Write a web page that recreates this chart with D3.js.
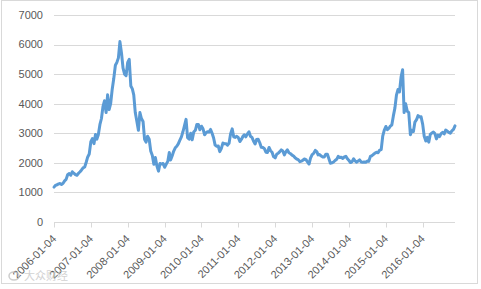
<!DOCTYPE html>
<html>
<head>
<meta charset="utf-8">
<script src="https://cdn.jsdelivr.net/npm/d3@7"></script>
<style>
  body { margin: 0; background: #fff; }
  svg { display: block; font-family: "Liberation Sans", Arial, sans-serif; }
</style>
</head>
<body>
<div id="chart"></div>
<script>
// Shanghai composite, two readings a month (4th and 19th)
const years = [2006, 2007, 2008, 2009, 2010, 2011, 2012, 2013, 2014, 2015, 2016];
const readDays = [4, 19];

const v2006 = [1180, 1240, 1260, 1290, 1300, 1270, 1310, 1390, 1440, 1600, 1640, 1580,
               1700, 1650, 1600, 1580, 1650, 1700, 1760, 1830, 1860, 2020, 2200, 2300];
const v2007 = [2715, 2820, 2650, 2960, 2800, 2950, 3300, 3500, 3900, 4100, 3700, 4300,
               3800, 4000, 4500, 4850, 5300, 5400, 5550, 6100, 5700, 5200, 5000, 4950];
const v2008 = [5400, 5500, 4600, 4500, 4300, 3700, 3400, 3100, 3700, 3500, 3400, 2800,
               2700, 2900, 2800, 2400, 2250, 1950, 2180, 1900, 1720, 1980, 1960, 1980];
const v2009 = [1850, 1950, 2050, 2350, 2100, 2230, 2400, 2510, 2560, 2640, 2770, 2880,
               3050, 3250, 3470, 2850, 2800, 3000, 2780, 3040, 3100, 3300, 3300, 3120];
const v2010 = [3240, 3150, 2950, 3020, 3050, 3040, 3130, 3000, 2840, 2600, 2560, 2570,
               2380, 2480, 2670, 2650, 2650, 2600, 2660, 2980, 3150, 2880, 2860, 2900];
const v2011 = [2850, 2720, 2800, 2900, 2950, 2880, 2980, 3050, 2900, 2860, 2730, 2640,
               2790, 2800, 2680, 2530, 2520, 2480, 2360, 2350, 2520, 2410, 2360, 2210];
const v2012 = [2170, 2290, 2330, 2380, 2440, 2400, 2270, 2380, 2440, 2340, 2310, 2260,
               2230, 2170, 2130, 2110, 2040, 2060, 2090, 2130, 2110, 2030, 1960, 2160];
const v2013 = [2280, 2320, 2420, 2380, 2270, 2280, 2230, 2200, 2200, 2290, 2290, 2140,
               1990, 2000, 2030, 2080, 2120, 2220, 2180, 2190, 2150, 2200, 2220, 2140];
const v2014 = [2080, 2010, 2040, 2140, 2070, 2020, 2060, 2100, 2030, 2020, 2030, 2020,
               2060, 2050, 2220, 2240, 2290, 2330, 2360, 2340, 2430, 2450, 2900, 3100];
const v2015 = [3230, 3120, 3170, 3250, 3280, 3580, 3860, 4290, 4480, 4400, 4910, 5150,
               3700, 4000, 3750, 3700, 2950, 3100, 3060, 3380, 3460, 3600, 3550, 3560];
const v2016 = [3300, 2900, 2740, 2860, 2700, 2960, 3010, 3040, 2990, 2810, 2940, 2890,
               2990, 3030, 2980, 3110, 3070, 3030, 3000, 3080, 3130, 3250];

const yTicks = [0, 1000, 2000, 3000, 4000, 5000, 6000, 7000];
const xTickLabels = years.map(y => y + "-01-04");

const byYear = [v2006, v2007, v2008, v2009, v2010, v2011, v2012, v2013, v2014, v2015, v2016];
const data = [];
byYear.forEach((vals, yi) => {
  vals.forEach((v, i) => {
    data.push({ date: new Date(years[yi], Math.floor(i / 2), readDays[i % 2]), value: v });
  });
});

const width = 481, height = 289;
const margin = { left: 54, right: 26, top: 15, bottom: 67 };

const x = d3.scaleTime()
  .domain(d3.extent(data, d => d.date))
  .range([margin.left, width - margin.right]);
const y = d3.scaleLinear()
  .domain([0, 7000])
  .range([height - margin.bottom, margin.top]);

const svg = d3.select("#chart").append("svg")
  .attr("width", width)
  .attr("height", height);

svg.append("rect")
  .attr("x", 1.5).attr("y", 0.5)
  .attr("width", 476).attr("height", 283)
  .attr("fill", "#fff")
  .attr("stroke", "#d9d9d9");

// gridlines
svg.append("g")
  .selectAll("line")
  .data(yTicks)
  .join("line")
    .attr("x1", margin.left)
    .attr("x2", width - margin.right)
    .attr("y1", d => Math.round(y(d)) + 0.5)
    .attr("y2", d => Math.round(y(d)) + 0.5)
    .attr("stroke", "#d9d9d9");

svg.append("g")
    .style("font-size", "11px")
    .attr("fill", "#595959")
  .selectAll("text")
  .data(yTicks)
  .join("text")
    .attr("x", margin.left - 11)
    .attr("y", d => y(d))
    .attr("dy", "0.35em")
    .attr("text-anchor", "end")
    .text(d => d);

// x axis ticks + rotated labels
const tickDates = years.map(yr => new Date(yr, 0, 4));
const y0 = Math.round(y(0)) + 0.5;
svg.append("g")
  .selectAll("line")
  .data(tickDates)
  .join("line")
    .attr("x1", d => Math.round(x(d)) + 0.5)
    .attr("x2", d => Math.round(x(d)) + 0.5)
    .attr("y1", y0)
    .attr("y2", y0 + 5)
    .attr("stroke", "#d9d9d9");

svg.append("g")
    .style("font-size", "11px")
    .attr("fill", "#595959")
  .selectAll("text")
  .data(tickDates)
  .join("text")
    .attr("transform", d => `translate(${x(d) + 3},${y0 + 17}) rotate(-45)`)
    .attr("text-anchor", "end")
    .text((d, i) => xTickLabels[i]);

// the series
const line = d3.line()
  .x(d => x(d.date))
  .y(d => y(d.value));

svg.append("path")
  .datum(data)
  .attr("fill", "none")
  .attr("stroke", "#5b9bd5")
  .attr("stroke-width", 3)
  .attr("stroke-linejoin", "round")
  .attr("stroke-linecap", "round")
  .attr("d", line);

// watermark
const wm = svg.append("g").attr("opacity", 0.75);
wm.append("ellipse")
  .attr("cx", 14).attr("cy", 276).attr("rx", 5).attr("ry", 4)
  .attr("fill", "none").attr("stroke", "#bdbdbd").attr("stroke-width", 1.5);
wm.append("text")
  .attr("x", 24).attr("y", 280)
  .style("font-family", "'Noto Sans CJK SC', sans-serif")
  .style("font-size", "11px")
  .attr("fill", "#c4c4c4")
  .text("大众财经");
</script>
</body>
</html>
